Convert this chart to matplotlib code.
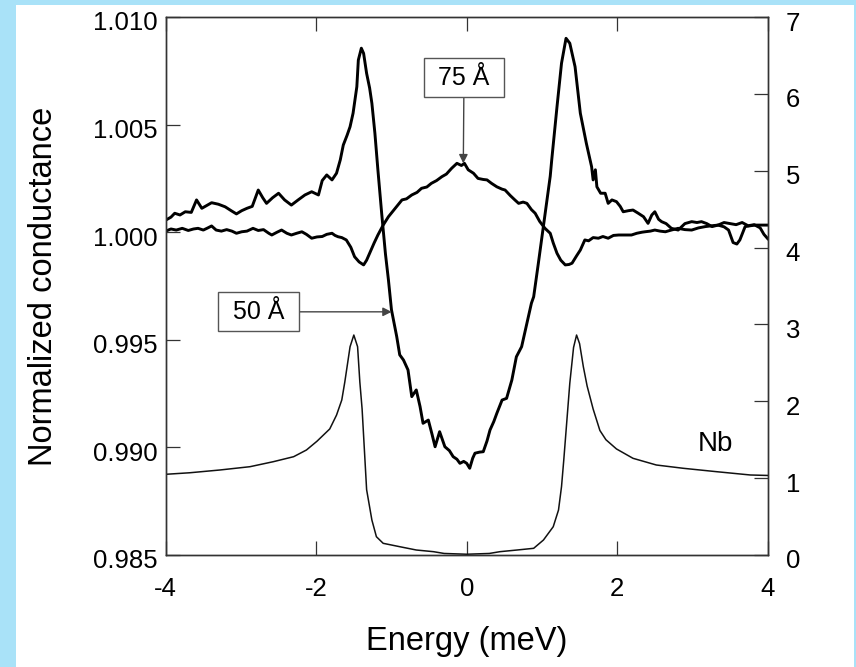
import matplotlib.pyplot as plt
from matplotlib.patches import Rectangle
from matplotlib.transforms import ScaledTranslation

plt.rcParams['font.family'] = ['Liberation Sans', 'DejaVu Sans']
plt.rcParams['axes.unicode_minus'] = False

# 50 A film (left axis)
E50 = [-4.00, -3.93, -3.88, -3.81, -3.74, -3.66, -3.59, -3.52, -3.45, -3.39,
       -3.30, -3.21, -3.13, -3.06, -2.99, -2.92, -2.85, -2.77, -2.71, -2.66,
       -2.58, -2.50, -2.42, -2.33, -2.24, -2.15, -2.06, -1.97, -1.92, -1.86,
       -1.79, -1.73, -1.68, -1.64, -1.59, -1.55, -1.51, -1.46, -1.44, -1.40,
       -1.37, -1.33, -1.29, -1.26, -1.22, -1.18, -1.13, -1.08, -1.04, -1.00,
       -0.93, -0.89, -0.84, -0.78, -0.73, -0.67, -0.62, -0.58, -0.51, -0.46,
       -0.42, -0.36, -0.29, -0.23, -0.18, -0.13, -0.09, -0.04, 0.00, 0.04,
       0.08, 0.11, 0.17, 0.22, 0.27, 0.31, 0.36, 0.40, 0.47, 0.53,
       0.60, 0.66, 0.73, 0.80, 0.86, 0.89, 0.95, 1.02, 1.07, 1.11,
       1.13, 1.20, 1.26, 1.32, 1.37, 1.44, 1.51, 1.59, 1.66, 1.68,
       1.71, 1.73, 1.78, 1.84, 1.88, 1.93, 1.99, 2.04, 2.08, 2.15,
       2.21, 2.28, 2.35, 2.41, 2.46, 2.50, 2.55, 2.59, 2.65, 2.72,
       2.81, 2.90, 2.99, 3.06, 3.12, 3.19, 3.26, 3.34, 3.42, 3.50,
       3.58, 3.66, 3.74, 3.82, 3.90, 3.95, 4.00]
G50 = [1.00056, 1.00070, 1.00088, 1.00080, 1.00095, 1.00092, 1.00150, 1.00111, 1.00125, 1.00137,
       1.00130, 1.00118, 1.00100, 1.00085, 1.00100, 1.00111, 1.00120, 1.00196, 1.00160, 1.00134,
       1.00160, 1.00181, 1.00150, 1.00126, 1.00150, 1.00173, 1.00188, 1.00173, 1.00240, 1.00266,
       1.00243, 1.00274, 1.00336, 1.00405, 1.00450, 1.00490, 1.00553, 1.00676, 1.00800, 1.00855,
       1.00831, 1.00738, 1.00670, 1.00599, 1.00460, 1.00289, 1.00088, 0.99900, 0.99778, 0.99640,
       0.99515, 0.99430, 0.99406, 0.99360, 0.99236, 0.99267, 0.99190, 0.99112, 0.99127, 0.99060,
       0.99003, 0.99073, 0.99003, 0.98985, 0.98957, 0.98945, 0.98926, 0.98935, 0.98926, 0.98903,
       0.98950, 0.98973, 0.98978, 0.98980, 0.99030, 0.99081, 0.99120, 0.99158, 0.99220, 0.99228,
       0.99313, 0.99421, 0.99468, 0.99577, 0.99670, 0.99700, 0.99850, 1.00030, 1.00160, 1.00260,
       1.00336, 1.00583, 1.00785, 1.00901, 1.00878, 1.00769, 1.00553, 1.00413, 1.00304, 1.00243,
       1.00290, 1.00211, 1.00181, 1.00181, 1.00134, 1.00150, 1.00142, 1.00120, 1.00095, 1.00100,
       1.00103, 1.00088, 1.00072, 1.00041, 1.00080, 1.00095, 1.00060, 1.00049, 1.00040, 1.00018,
       1.00010, 1.00040, 1.00049, 1.00045, 1.00049, 1.00040, 1.00026, 1.00033, 1.00045, 1.00040,
       1.00035, 1.00045, 1.00030, 1.00035, 1.00020, 0.99990, 0.99970]

# 75 A film (left axis)
E75 = [-4.00, -3.93, -3.86, -3.78, -3.70, -3.63, -3.57, -3.50, -3.44, -3.39,
       -3.33, -3.26, -3.19, -3.12, -3.06, -2.99, -2.92, -2.84, -2.77, -2.70,
       -2.63, -2.59, -2.52, -2.46, -2.39, -2.33, -2.26, -2.19, -2.13, -2.06,
       -1.99, -1.92, -1.86, -1.79, -1.75, -1.71, -1.66, -1.60, -1.54, -1.49,
       -1.43, -1.37, -1.33, -1.29, -1.23, -1.18, -1.11, -1.04, -0.95, -0.86,
       -0.80, -0.73, -0.66, -0.60, -0.53, -0.47, -0.40, -0.33, -0.27, -0.20,
       -0.13, -0.07, -0.03, 0.02, 0.09, 0.15, 0.22, 0.27, 0.33, 0.40,
       0.47, 0.51, 0.58, 0.64, 0.69, 0.75, 0.80, 0.86, 0.91, 0.97,
       1.04, 1.11, 1.15, 1.20, 1.25, 1.31, 1.36, 1.40, 1.46, 1.51,
       1.57, 1.62, 1.68, 1.75, 1.81, 1.88, 1.95, 2.02, 2.10, 2.19,
       2.26, 2.33, 2.37, 2.44, 2.50, 2.57, 2.64, 2.72, 2.81, 2.90,
       2.99, 3.08, 3.17, 3.26, 3.34, 3.42, 3.48, 3.54, 3.59, 3.63,
       3.70, 3.77, 3.83, 3.90, 4.00]
G75 = [1.00005, 1.00015, 1.00010, 1.00018, 1.00008, 1.00015, 1.00018, 1.00010, 1.00020, 1.00029,
       1.00010, 1.00005, 1.00012, 1.00005, 0.99995, 1.00002, 1.00005, 1.00018, 1.00008, 1.00012,
       0.99995, 0.99987, 1.00000, 1.00010, 0.99995, 0.99987, 0.99995, 1.00002, 0.99990, 0.99972,
       0.99978, 0.99980, 0.99990, 0.99995, 0.99985, 0.99979, 0.99975, 0.99964, 0.99930, 0.99886,
       0.99862, 0.99848, 0.99870, 0.99902, 0.99950, 0.99987, 1.00033, 1.00072, 1.00111, 1.00150,
       1.00155, 1.00173, 1.00185, 1.00204, 1.00210, 1.00227, 1.00240, 1.00258, 1.00270, 1.00297,
       1.00320, 1.00310, 1.00320, 1.00290, 1.00274, 1.00250, 1.00245, 1.00243, 1.00227, 1.00211,
       1.00200, 1.00196, 1.00170, 1.00150, 1.00134, 1.00140, 1.00134, 1.00105, 1.00088, 1.00050,
       1.00018, 0.99995, 0.99950, 0.99902, 0.99870, 0.99848, 0.99850, 0.99856, 0.99890, 0.99917,
       0.99964, 0.99960, 0.99975, 0.99972, 0.99980, 0.99972, 0.99985, 0.99987, 0.99987, 0.99987,
       0.99995, 1.00000, 1.00002, 1.00005, 1.00010, 1.00005, 1.00002, 1.00010, 1.00018, 1.00012,
       1.00010, 1.00020, 1.00026, 1.00030, 1.00033, 1.00025, 1.00010, 0.99952, 0.99945, 0.99964,
       1.00026, 1.00030, 1.00033, 1.00033, 1.00033]

# bulk Nb (right axis)
ENb = [-4.00, -3.68, -3.28, -2.88, -2.57, -2.30, -2.13, -1.99, -1.82, -1.73,
       -1.66, -1.62, -1.55, -1.50, -1.45, -1.42, -1.39, -1.35, -1.33, -1.26,
       -1.20, -1.11, -0.89, -0.67, -0.44, -0.30, 0.00, 0.30, 0.44, 0.67,
       0.89, 1.02, 1.15, 1.22, 1.26, 1.29, 1.37, 1.42, 1.46, 1.50,
       1.55, 1.60, 1.68, 1.77, 1.85, 1.99, 2.21, 2.52, 2.88, 3.32,
       3.77, 4.00]
GNb = [1.05, 1.07, 1.106, 1.149, 1.214, 1.279, 1.366, 1.48, 1.64, 1.82,
       2.017, 2.25, 2.71, 2.862, 2.71, 2.25, 1.9, 1.2, 0.85, 0.455,
       0.238, 0.152, 0.108, 0.065, 0.043, 0.02, 0.01, 0.02, 0.043, 0.065,
       0.087, 0.195, 0.368, 0.585, 0.889, 1.236, 2.234, 2.7, 2.862, 2.75,
       2.45, 2.2, 1.9, 1.62, 1.5, 1.38, 1.258, 1.171, 1.128, 1.084,
       1.041, 1.035]

xticks = [-4, -2, 0, 2, 4]
lticks = [0.985, 0.990, 0.995, 1.000, 1.005, 1.010]
rticks = [0, 1, 2, 3, 4, 5, 6, 7]

fig = plt.figure(figsize=(8.56, 6.67), dpi=100, facecolor='#a9e2f8')
fig.patches.append(Rectangle((16 / 856, 0), 838 / 856, 662 / 667, transform=fig.transFigure,
                             facecolor='white', edgecolor='none', zorder=-10))

ax = fig.add_axes([165.7 / 856, 1 - 555 / 667, 602 / 856, 538 / 667])
ax2 = ax.twinx()

ax.plot(E50, G50, color='black', lw=2.1)
ax.plot(E75, G75, color='black', lw=2.1)
ax2.plot(ENb, GNb, color='#111111', lw=1.1)

ax.set_xlim(-4, 4)
ax.set_ylim(0.985, 1.010)
ax2.set_ylim(0, 7)
ax.set_xticks(xticks)
ax.set_yticks(lticks)
ax.set_yticklabels(['%.3f' % t for t in lticks])
ax2.set_yticks(rticks)

for a in (ax, ax2):
    for s in a.spines.values():
        s.set_color('#333333')
        s.set_linewidth(1.0)

ax.tick_params(axis='x', direction='in', top=True, length=10, width=0.9,
               labelsize=18.5, pad=16, color='#333333')
ax.tick_params(axis='y', direction='in', length=10, width=0.9,
               labelsize=18.5, pad=6, color='#333333')
ax2.tick_params(axis='y', direction='in', length=10, width=0.9,
                labelsize=18.5, pad=13, color='#333333')

# y tick labels sit a few pixels below their ticks in the original
shift = ScaledTranslation(0, -4 / 100, fig.dpi_scale_trans)
for lab in ax.get_yticklabels() + ax2.get_yticklabels():
    lab.set_transform(lab.get_transform() + shift)

ax.set_xlabel('Energy (meV)', fontsize=23.5, labelpad=18)
ax.set_ylabel('Normalized conductance', fontsize=23.5, labelpad=24)

box = dict(boxstyle='square,pad=0.3', facecolor='white', edgecolor='#555555', lw=1.0)
arrow = dict(arrowstyle='-|>', color='#444444', lw=1.0, mutation_scale=13, shrinkA=0, shrinkB=0)
ax.annotate(' 75 Å ', xy=(-0.045, 1.0032), xytext=(-0.036, 1.00717),
            fontsize=18, ha='center', va='center', bbox=box, arrowprops=arrow)
ax.annotate(' 50 Å ', xy=(-0.997, 0.9963), xytext=(-2.77, 0.9963),
            fontsize=18, ha='center', va='center', bbox=box, arrowprops=arrow)
ax2.text(3.31, 1.44, 'Nb', fontsize=20, ha='center', va='center')

fig.savefig('out.png', dpi=100, facecolor=fig.get_facecolor())
